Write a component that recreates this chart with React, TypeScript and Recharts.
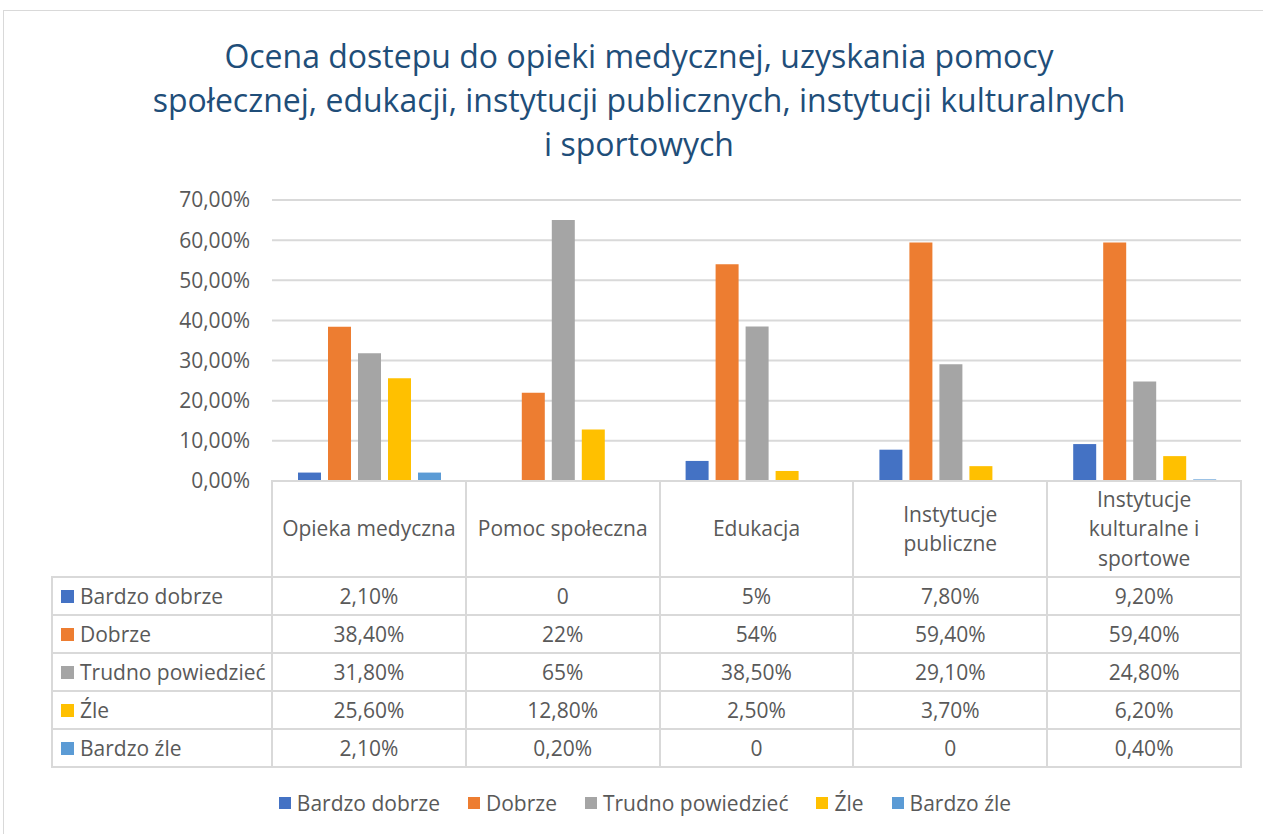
import React from "react";
import { BarChart, Bar, XAxis, YAxis, CartesianGrid } from "recharts";

const titleLines = [
  "Ocena dostepu do opieki medycznej, uzyskania pomocy",
  "społecznej, edukacji, instytucji publicznych, instytucji kulturalnych",
  "i sportowych",
];

const categories = [
  "Opieka medyczna",
  "Pomoc społeczna",
  "Edukacja",
  "Instytucje publiczne",
  "Instytucje kulturalne i sportowe",
];
// header cells break the longer names like Excel does
const categoryLabels = [
  "Opieka medyczna",
  "Pomoc społeczna",
  "Edukacja",
  "Instytucje\npubliczne",
  "Instytucje\nkulturalne i\nsportowe",
];

const seriesNames = ["Bardzo dobrze", "Dobrze", "Trudno powiedzieć", "Źle", "Bardzo źle"];
const seriesColors = ["#4472C4", "#ED7D31", "#A5A5A5", "#FFC000", "#5B9BD5"];

const bardzoDobrze = [2.1, 0, 5, 7.8, 9.2];
const dobrze = [38.4, 22, 54, 59.4, 59.4];
const trudnoPowiedziec = [31.8, 65, 38.5, 29.1, 24.8];
const zle = [25.6, 12.8, 2.5, 3.7, 6.2];
const bardzoZle = [2.1, 0.2, 0, 0, 0.4];

const seriesValues = [bardzoDobrze, dobrze, trudnoPowiedziec, zle, bardzoZle];
const yTicks = [0, 10, 20, 30, 40, 50, 60, 70];

const data = categories.map((name, i) => {
  const row: Record<string, string | number> = { name };
  seriesValues.forEach((vals, s) => {
    row["s" + s] = vals[i];
  });
  return row;
});

const FONT = "'Open Sans', sans-serif";
const TEXT = "#595959";
const LINE = "#D9D9D9";
const FS = 21;

const PLOT_LEFT = 272;
const PLOT_RIGHT = 1241;
const PLOT_TOP = 200;
const PLOT_BOTTOM = 481;
const COL_W = (PLOT_RIGHT - PLOT_LEFT) / categories.length;
const LABEL_LEFT = 52;

const axisFmt = (v: number) => v.toFixed(2).replace(".", ",") + "%";
const cellFmt = (v: number) =>
  v === 0 ? "0" : Number.isInteger(v) ? v + "%" : v.toFixed(2).replace(".", ",") + "%";

const Swatch = ({ color, size }: { color: string; size: number }) => (
  <span
    style={{
      display: "inline-block",
      width: size,
      height: size,
      background: color,
      marginRight: 6,
      flexShrink: 0,
    }}
  />
);

const App = () => {
  const cellBorder = `2px solid ${LINE}`;
  return (
    <div
      style={{
        position: "absolute",
        left: 0,
        top: 0,
        width: 1263,
        height: 834,
        overflow: "hidden",
        background: "#fff",
        fontFamily: FONT,
      }}
    >
      <div
        style={{
          position: "absolute",
          left: 3,
          top: 10,
          width: 1300,
          height: 900,
          border: `1px solid ${LINE}`,
        }}
      />

      <div
        style={{
          position: "absolute",
          left: 0,
          top: 34,
          width: 1278,
          textAlign: "center",
          color: "#1F4E79",
          fontSize: 32,
          lineHeight: "44px",
        }}
      >
        {titleLines.map((t) => (
          <div key={t}>{t}</div>
        ))}
      </div>

      <div style={{ position: "absolute", left: 0, top: 0 }}>
        <BarChart
          width={1263}
          height={834}
          data={data}
          margin={{ top: PLOT_TOP, right: 1263 - PLOT_RIGHT, bottom: 834 - PLOT_BOTTOM, left: PLOT_LEFT - 80 }}
          barCategoryGap={26}
          barGap={7}
        >
          <CartesianGrid vertical={false} stroke={LINE} strokeWidth={2} />
          <XAxis dataKey="name" hide />
          <YAxis
            domain={[0, 70]}
            ticks={yTicks}
            interval={0}
            width={80}
            axisLine={false}
            tickLine={false}
            tickSize={0}
            tickMargin={22}
            tickFormatter={axisFmt}
            tick={{ fill: TEXT, fontSize: FS, fontFamily: FONT }}
          />
          {seriesNames.map((n, s) => (
            <Bar key={n} dataKey={"s" + s} name={n} fill={seriesColors[s]} isAnimationActive={false} />
          ))}
        </BarChart>
      </div>

      <table
        style={{
          position: "absolute",
          left: LABEL_LEFT - 1,
          top: PLOT_BOTTOM - 1,
          borderCollapse: "collapse",
          tableLayout: "fixed",
          color: TEXT,
          fontSize: FS,
        }}
      >
        <colgroup>
          <col style={{ width: PLOT_LEFT - LABEL_LEFT }} />
          {categories.map((c) => (
            <col key={c} style={{ width: COL_W }} />
          ))}
        </colgroup>
        <tbody>
          <tr style={{ height: 96 }}>
            <td style={{ border: "none", padding: 0 }} />
            {categoryLabels.map((c) => (
              <td
                key={c}
                style={{
                  border: cellBorder,
                  textAlign: "center",
                  whiteSpace: "pre-line",
                  lineHeight: "29.5px",
                  padding: 0,
                }}
              >
                {c}
              </td>
            ))}
          </tr>
          {seriesNames.map((n, s) => (
            <tr key={n} style={{ height: 38 }}>
              <td style={{ border: cellBorder, padding: "0 0 0 8px", whiteSpace: "nowrap" }}>
                <div style={{ display: "flex", alignItems: "center" }}>
                  <Swatch color={seriesColors[s]} size={13} />
                  {n}
                </div>
              </td>
              {seriesValues[s].map((v, i) => (
                <td key={i} style={{ border: cellBorder, textAlign: "center", padding: 0 }}>
                  {cellFmt(v)}
                </td>
              ))}
            </tr>
          ))}
        </tbody>
      </table>

      <div
        style={{
          position: "absolute",
          left: 6,
          top: 789,
          width: 1278,
          display: "flex",
          justifyContent: "center",
          color: TEXT,
          fontSize: FS,
          lineHeight: "28px",
        }}
      >
        {seriesNames.map((n, s) => (
          <div key={n} style={{ display: "flex", alignItems: "center", marginRight: s < seriesNames.length - 1 ? 28 : 0 }}>
            <Swatch color={seriesColors[s]} size={12} />
            {n}
          </div>
        ))}
      </div>
    </div>
  );
};

export default App;
